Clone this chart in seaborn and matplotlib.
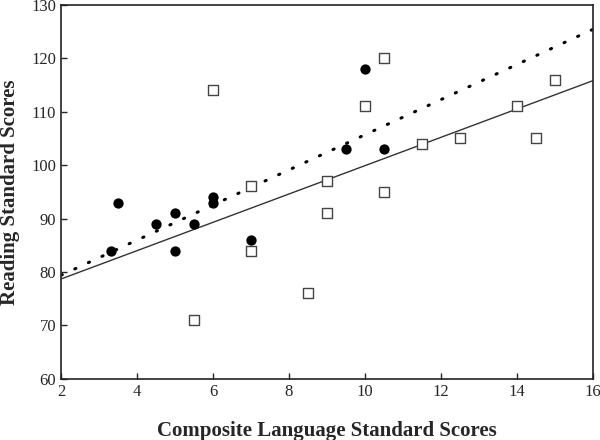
import numpy as np
import pandas as pd
import matplotlib
matplotlib.use("Agg")
import matplotlib.pyplot as plt
import seaborn as sns

# ==========================================
# Data
# ==========================================

circle_x = [3.3, 3.5, 4.5, 5.0, 5.0, 5.5, 6.0, 6.0, 7.0, 9.5, 10.0, 10.5]
circle_y = [84, 93, 89, 91, 84, 89, 94, 93, 86, 103, 118, 103]

square_x = [5.5, 6.0, 7.0, 7.0, 8.5, 9.0, 9.0, 10.0, 10.5, 10.5, 11.5, 12.5, 14.0, 14.5, 15.0]
square_y = [71, 114, 96, 84, 76, 97, 91, 111, 120, 95, 104, 105, 111, 105, 116]

# fit lines (endpoints at x = 2 and x = 16)
line_x = [2, 16]
solid_y = [78.7, 115.8]
dotted_y = [79.4, 125.4]

circles = pd.DataFrame({"x": circle_x, "y": circle_y})
squares = pd.DataFrame({"x": square_x, "y": square_y})
solid = pd.DataFrame({"x": line_x, "y": solid_y})
dotted = pd.DataFrame({"x": line_x, "y": dotted_y})

# ==========================================
# Plot
# ==========================================

sns.set_style("ticks")
plt.rcParams["font.family"] = ["Liberation Serif", "DejaVu Serif"]

fig = plt.figure(figsize=(6, 4.4), dpi=100)
ax = fig.add_axes([0.102, 0.139, 0.886, 0.85])

sns.lineplot(data=solid, x="x", y="y", ax=ax, color="#333333", linewidth=1)
sns.lineplot(data=dotted, x="x", y="y", ax=ax, color="black", linewidth=2.2,
             linestyle=(0, (0.4, 4.5)), dash_capstyle="round")

sns.scatterplot(data=squares, x="x", y="y", ax=ax, marker="s", s=42,
                facecolor="white", edgecolor="#444444", linewidth=1, zorder=3)
sns.scatterplot(data=circles, x="x", y="y", ax=ax, marker="o", s=55,
                color="black", edgecolor="black", linewidth=0, zorder=4)

ax.set_xlim(2, 16)
ax.set_ylim(60, 130)
ax.set_xticks(range(2, 17, 2))
ax.set_yticks(range(60, 131, 10))
ax.tick_params(direction="in", length=4, labelsize=12, width=1)

for sp in ax.spines.values():
    sp.set_linewidth(1.2)
    sp.set_color("#222222")

ax.set_xlabel("Composite Language Standard Scores", fontsize=15,
              fontweight="bold", labelpad=15)
ax.set_ylabel("Reading Standard Scores", fontsize=15, fontweight="bold",
              labelpad=8)

plt.savefig("out.png", dpi=100)
